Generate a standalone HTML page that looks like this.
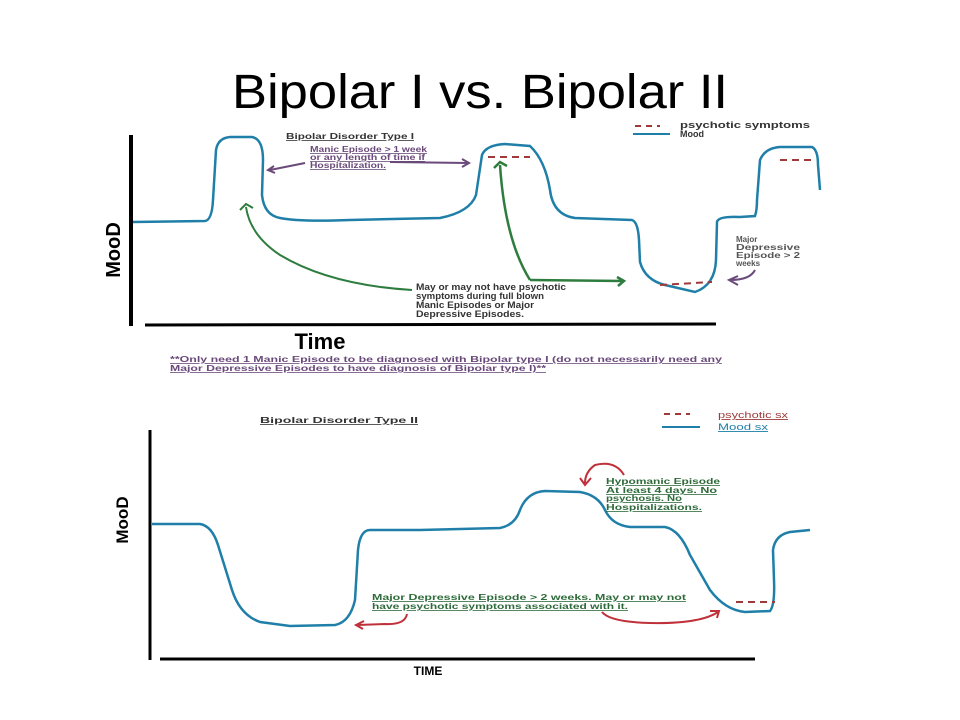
<!DOCTYPE html>
<html><head><meta charset="utf-8"><style>
html,body{margin:0;padding:0;background:#fff;width:960px;height:720px;overflow:hidden}
svg{display:block}
</style></head><body>
<svg width="960" height="720" viewBox="0 0 960 720" xmlns="http://www.w3.org/2000/svg" font-family="Liberation Sans, sans-serif">
<text x="232" y="108" font-size="48" fill="#000" textLength="496" lengthAdjust="spacingAndGlyphs">Bipolar I vs. Bipolar II</text>

<!-- Top chart axes -->
<line x1="131" y1="135" x2="131" y2="326" stroke="#000" stroke-width="4"/>
<line x1="145" y1="325" x2="716" y2="324" stroke="#000" stroke-width="3"/>
<text x="320" y="349" text-anchor="middle" font-size="22" font-weight="bold">Time</text>
<text transform="translate(120,250) rotate(-90)" text-anchor="middle" font-size="20" font-weight="bold">MooD</text>

<!-- top mood curve -->
<path d="M133,222 L205,221 Q212,220 213,200 L216,150 Q218,138 230,137 L252,137 Q263,139 263,160 L262,195 Q264,215 280,218 Q300,222 350,220 L440,218 Q470,212 476,195 L482,155 Q486,145 505,144 L530,146 Q545,160 550,190 Q553,215 575,218 L632,220 Q638,222 639,240 L640,262 Q645,280 665,285 L695,292 Q715,285 716,260 L717,222 Q718,216 740,217 L755,216 Q757,210 757,200 L760,160 Q765,148 780,147 L812,147 Q818,150 818,165 L820,190" fill="none" stroke="#1f7fa8" stroke-width="2.5"/>
<line x1="488" y1="157" x2="530" y2="157" stroke="#a03a3a" stroke-width="2" stroke-dasharray="7,5"/>
<line x1="660" y1="285" x2="712" y2="282" stroke="#a03a3a" stroke-width="2" stroke-dasharray="7,5"/>
<line x1="780" y1="160" x2="815" y2="160" stroke="#a03a3a" stroke-width="2" stroke-dasharray="7,5"/>

<!-- legend top -->
<line x1="635" y1="126" x2="660" y2="126" stroke="#a03a3a" stroke-width="2" stroke-dasharray="6,5"/>
<line x1="633" y1="134" x2="670" y2="134" stroke="#1f7fa8" stroke-width="2"/>
<text x="680" y="128" font-size="9" font-weight="bold" fill="#333" textLength="130" lengthAdjust="spacingAndGlyphs">psychotic symptoms</text>
<text x="680" y="137" font-size="9" font-weight="bold" fill="#333">Mood</text>

<text x="286" y="139" font-size="8" font-weight="bold" text-decoration="underline" fill="#333" textLength="128" lengthAdjust="spacingAndGlyphs">Bipolar Disorder Type I</text>
<g font-size="8" font-weight="bold" fill="#6a4a7a" text-decoration="underline">
<text x="310" y="152" textLength="117" lengthAdjust="spacingAndGlyphs">Manic Episode &gt; 1 week</text>
<text x="310" y="160" textLength="115" lengthAdjust="spacingAndGlyphs">or any length of time if</text>
<text x="310" y="168" textLength="76" lengthAdjust="spacingAndGlyphs">Hospitalization.</text>
</g>
<path d="M305,163 Q290,166 270,170 M274,166 L268,170 L275,173" fill="none" stroke="#6a4a7a" stroke-width="2"/>
<path d="M390,162 L468,163 M462,159 L469,163 L462,167" fill="none" stroke="#6a4a7a" stroke-width="2"/>

<!-- green arrows -->
<path d="M412,290 Q330,285 280,255 Q250,235 246,207 M240,210 L246,204 L253,208" fill="none" stroke="#2e7d3e" stroke-width="2"/>
<path d="M530,280 Q505,240 500,165 M494,168 L500,162 L507,166" fill="none" stroke="#2e7d3e" stroke-width="2.5"/>
<path d="M530,280 L623,281 M617,277 L624,281 L618,286" fill="none" stroke="#2e7d3e" stroke-width="2.5"/>
<g font-size="9" font-weight="bold" fill="#333">
<text x="416" y="290" textLength="150" lengthAdjust="spacingAndGlyphs">May or may not have psychotic</text>
<text x="416" y="299" textLength="128" lengthAdjust="spacingAndGlyphs">symptoms during full blown</text>
<text x="416" y="308" textLength="118" lengthAdjust="spacingAndGlyphs">Manic Episodes or Major</text>
<text x="416" y="317" textLength="108" lengthAdjust="spacingAndGlyphs">Depressive Episodes.</text>
</g>
<g font-size="8" font-weight="bold" fill="#555">
<text x="736" y="242">Major</text>
<text x="736" y="250" textLength="64" lengthAdjust="spacingAndGlyphs">Depressive</text>
<text x="736" y="258" textLength="64" lengthAdjust="spacingAndGlyphs">Episode &gt; 2</text>
<text x="736" y="266">weeks</text>
</g>
<path d="M755,270 Q750,280 730,280 M738,276 L729,280 L738,285" fill="none" stroke="#6a4a7a" stroke-width="2"/>

<g font-size="8" font-weight="bold" fill="#6a4a7a" text-decoration="underline">
<text x="170" y="362" textLength="552" lengthAdjust="spacingAndGlyphs">**Only need 1 Manic Episode to be diagnosed with Bipolar type I (do not necessarily need any</text>
<text x="170" y="371" textLength="376" lengthAdjust="spacingAndGlyphs">Major Depressive Episodes to have diagnosis of Bipolar type I)**</text>
</g>

<!-- bottom chart -->
<line x1="150" y1="430" x2="150" y2="660" stroke="#000" stroke-width="3"/>
<line x1="160" y1="659" x2="755" y2="659" stroke="#000" stroke-width="3"/>
<text x="428" y="675" text-anchor="middle" font-size="12" font-weight="bold">TIME</text>
<text transform="translate(128,520) rotate(-90)" text-anchor="middle" font-size="17" font-weight="bold">MooD</text>
<text x="260" y="423" font-size="8" font-weight="bold" text-decoration="underline" fill="#333" textLength="158" lengthAdjust="spacingAndGlyphs">Bipolar Disorder Type II</text>

<path d="M152,524 L200,524 Q212,526 218,545 L232,590 Q240,615 260,622 L290,626 L335,625 Q350,622 355,600 L358,550 Q360,530 370,530 L420,530 L500,528 Q515,525 520,510 Q527,492 545,491 L580,492 Q598,495 605,510 Q612,525 630,527 L665,527 Q680,530 690,555 L710,590 Q725,610 745,612 L770,611 Q775,605 774,580 L773,550 Q775,535 790,532 L810,530" fill="none" stroke="#1f7fa8" stroke-width="2.5"/>
<line x1="736" y1="602" x2="775" y2="602" stroke="#a03a3a" stroke-width="2" stroke-dasharray="7,5"/>

<line x1="664" y1="414" x2="690" y2="414" stroke="#a03a3a" stroke-width="2" stroke-dasharray="6,5"/>
<line x1="662" y1="427" x2="700" y2="427" stroke="#1f7fa8" stroke-width="2"/>
<text x="718" y="418" font-size="9" fill="#a03a3a" text-decoration="underline" textLength="70" lengthAdjust="spacingAndGlyphs">psychotic sx</text>
<text x="718" y="430" font-size="9" fill="#1f7fa8" text-decoration="underline" textLength="50" lengthAdjust="spacingAndGlyphs">Mood sx</text>

<g font-size="8" font-weight="bold" fill="#2e6a3a" text-decoration="underline">
<text x="606" y="484" textLength="114" lengthAdjust="spacingAndGlyphs">Hypomanic Episode</text>
<text x="606" y="493" textLength="111" lengthAdjust="spacingAndGlyphs">At least 4 days.  No</text>
<text x="606" y="501" textLength="76" lengthAdjust="spacingAndGlyphs">psychosis.  No</text>
<text x="606" y="510" textLength="96" lengthAdjust="spacingAndGlyphs">Hospitalizations.</text>
<text x="372" y="600" textLength="314" lengthAdjust="spacingAndGlyphs">Major Depressive Episode &gt; 2 weeks.  May or may not</text>
<text x="372" y="609" textLength="256" lengthAdjust="spacingAndGlyphs">have psychotic symptoms associated with it.</text>
</g>
<path d="M624,475 Q615,460 595,465 Q585,472 585,483 M580,478 L585,485 L591,478" fill="none" stroke="#c0303a" stroke-width="2"/>
<path d="M407,614 Q405,625 385,624 L357,625 M364,621 L356,625 L363,629" fill="none" stroke="#c0303a" stroke-width="2"/>
<path d="M602,612 Q610,622 650,623 Q700,624 718,612 M710,611 L719,611 L717,618" fill="none" stroke="#c0303a" stroke-width="2"/>
</svg>
</body></html>
